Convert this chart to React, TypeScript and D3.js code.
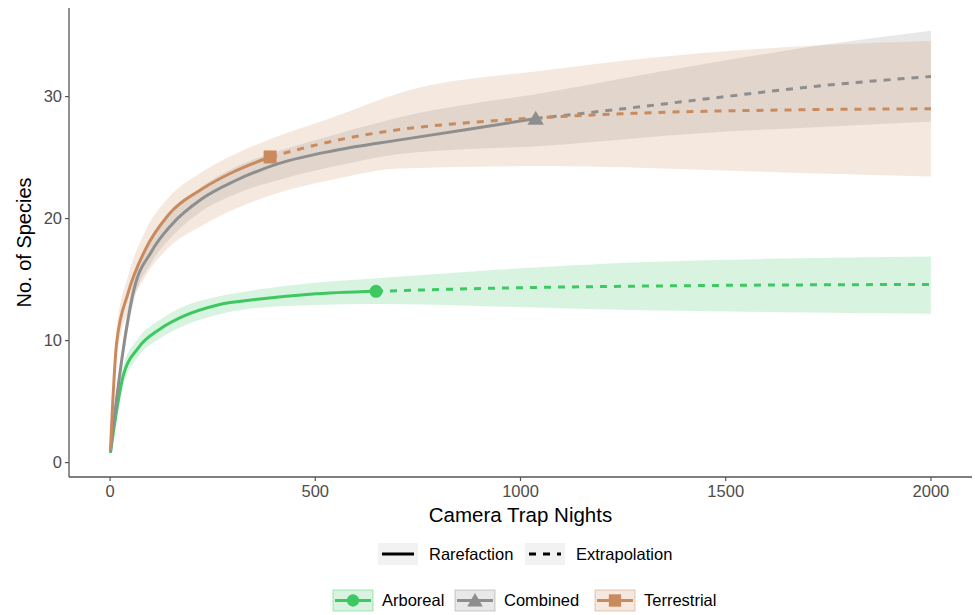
import React from "react";
import * as d3 from "d3";

// values (x = camera trap nights, y = species)
const arborealRare = [[1, 0.8], [32, 7.1], [69, 9.4], [122, 10.95], [179, 12.0], [260, 12.9], [365, 13.4], [487, 13.8], [648, 14.04]];
const arborealExtra = [[648, 14.04], [942, 14.3], [1250, 14.45], [1600, 14.55], [2000, 14.6]];
const arborealBand = [
  [1, 0.6, 1.0], [32, 6.3, 7.9], [69, 8.7, 10.2], [122, 10.2, 11.7], [179, 11.2, 12.8], [260, 12.1, 13.6],
  [365, 12.7, 14.2], [487, 12.9, 14.7], [648, 13.0, 15.1], [942, 12.8, 15.8], [1267, 12.5, 16.4],
  [1600, 12.35, 16.7], [2000, 12.2, 16.9]
];

const combinedRare = [[1, 0.9], [20, 6.3], [57, 14.0], [101, 17.3], [150, 19.5], [223, 21.6], [305, 23.1], [410, 24.5], [550, 25.6], [706, 26.45], [870, 27.3], [1037, 28.2]];
const combinedExtra = [[1037, 28.2], [1250, 29.0], [1437, 29.75], [1721, 30.85], [2000, 31.65]];
const combinedBand = [
  [1, 0.7, 1.1], [20, 5.7, 7.0], [57, 13.1, 14.9], [101, 16.4, 18.3], [150, 18.5, 20.5], [223, 20.6, 22.6],
  [305, 22.0, 24.2], [426, 23.3, 25.7], [550, 24.3, 26.9], [706, 25.3, 28.3], [1072, 26.0, 30.4],
  [1437, 27.0, 32.6], [1730, 27.5, 34.2], [2000, 27.95, 35.4]
];

const terrestrialRare = [[1, 1.0], [16, 9.8], [44, 13.9], [85, 17.4], [142, 20.3], [223, 22.4], [305, 23.9], [390, 25.05]];
const terrestrialExtra = [[390, 25.05], [550, 26.4], [706, 27.3], [870, 27.85], [1037, 28.25], [1283, 28.64], [1640, 28.9], [2000, 29.0]];
const terrestrialBand = [
  [1, 0.8, 1.2], [16, 8.5, 11.0], [44, 12.4, 15.3], [85, 15.2, 18.9], [142, 17.6, 21.7], [223, 19.4, 23.8],
  [305, 20.8, 25.3], [390, 21.9, 26.5], [543, 23.2, 28.3], [706, 24.1, 30.3], [1072, 24.3, 32.2],
  [1437, 24.0, 33.55], [1730, 23.7, 34.2], [2000, 23.45, 34.55]
];

const xTicks = [0, 500, 1000, 1500, 2000];
const yTicks = [0, 10, 20, 30];
const groups = ["Arboreal", "Combined", "Terrestrial"];
const methods = ["Rarefaction", "Extrapolation"];

const colors = { Arboreal: "#3DC862", Combined: "#8E8E8E", Terrestrial: "#C98B5E" };
const font = "'Liberation Sans', Arial, sans-serif";

const series = [
  { name: "Arboreal", rare: arborealRare, extra: arborealExtra, band: arborealBand },
  { name: "Combined", rare: combinedRare, extra: combinedExtra, band: combinedBand },
  { name: "Terrestrial", rare: terrestrialRare, extra: terrestrialExtra, band: terrestrialBand }
];

function Marker({ name, cx, cy, scale = 1 }) {
  const c = colors[name];
  if (name === "Arboreal") return <circle cx={cx} cy={cy} r={6.5 * scale} fill={c} />;
  if (name === "Combined") {
    const d = d3.symbol(d3.symbolTriangle, 115 * scale * scale)();
    return <path d={d} transform={`translate(${cx},${cy + 1.5 * scale})`} fill={c} />;
  }
  const s = 13 * scale;
  return <rect x={cx - s / 2} y={cy - s / 2} width={s} height={s} fill={c} />;
}

export default function App() {
  const width = 975;
  const height = 615;
  const left = 69, right = 972, top = 8, bottom = 477;

  const x = d3.scaleLinear().domain([-100, 2100]).range([left, right]);
  const y = d3.scaleLinear().domain([-1.18, 37.26]).range([bottom, top]);

  const line = d3.line().curve(d3.curveMonotoneX).x(d => x(d[0])).y(d => y(d[1]));
  const area = d3.area().curve(d3.curveMonotoneX).x(d => x(d[0])).y0(d => y(d[1])).y1(d => y(d[2]));

  return (
    <svg width={width} height={height} style={{ position: "absolute", left: 0, top: 0, background: "#fff" }} fontFamily={font}>
      {/* confidence bands */}
      {series.map(s => (
        <path key={s.name + "band"} d={area(s.band)} fill={colors[s.name]} fillOpacity={0.2} />
      ))}
      {/* rarefaction / extrapolation */}
      {series.map(s => (
        <g key={s.name + "lines"}>
          <path d={line(s.rare)} fill="none" stroke={colors[s.name]} strokeWidth={3} strokeLinejoin="round" />
          <path d={line(s.extra)} fill="none" stroke={colors[s.name]} strokeWidth={3} strokeDasharray="7 7" />
        </g>
      ))}
      {series.map(s => {
        const last = s.rare[s.rare.length - 1];
        return <Marker key={s.name + "pt"} name={s.name} cx={x(last[0])} cy={y(last[1])} />;
      })}

      {/* axes */}
      <line x1={left} x2={left} y1={top} y2={bottom} stroke="#555" strokeWidth={1.3} />
      <line x1={left} x2={right} y1={bottom} y2={bottom} stroke="#555" strokeWidth={1.3} />
      {yTicks.map(t => (
        <g key={"y" + t}>
          <line x1={left - 4} x2={left} y1={y(t)} y2={y(t)} stroke="#555" strokeWidth={1.2} />
          <text x={left - 7} y={y(t)} dy="0.35em" textAnchor="end" fontSize={16.5} fill="#4D4D4D">{t}</text>
        </g>
      ))}
      {xTicks.map(t => (
        <g key={"x" + t}>
          <line x1={x(t)} x2={x(t)} y1={bottom} y2={bottom + 4} stroke="#555" strokeWidth={1.2} />
          <text x={x(t)} y={bottom + 20} textAnchor="middle" fontSize={16.5} fill="#4D4D4D">{t}</text>
        </g>
      ))}
      <text x={(left + right) / 2} y={522} textAnchor="middle" fontSize={20.5} fill="#000">Camera Trap Nights</text>
      <text transform={`translate(31,${(top + bottom) / 2}) rotate(-90)`} textAnchor="middle" fontSize={20} fill="#000">No. of Species</text>

      {/* linetype legend */}
      {methods.map((m, i) => {
        const kx = i === 0 ? 378 : 525;
        return (
          <g key={m}>
            <rect x={kx} y={543} width={40} height={22} fill="#F2F2F2" />
            <line x1={kx + 4} x2={kx + 36} y1={554} y2={554} stroke="#000" strokeWidth={3}
              strokeDasharray={i === 0 ? null : "7 7"} />
            <text x={kx + 51} y={554} dy="0.35em" fontSize={16.5} fill="#000">{m}</text>
          </g>
        );
      })}

      {/* fill legend */}
      {groups.map((g, i) => {
        const kx = [333, 455, 595][i];
        return (
          <g key={g}>
            <rect x={kx} y={590} width={40} height={21} fill={colors[g]} fillOpacity={0.2}
              stroke={colors[g]} strokeOpacity={0.45} strokeWidth={1} />
            <line x1={kx + 2} x2={kx + 38} y1={600.5} y2={600.5} stroke={colors[g]} strokeWidth={3} />
            <Marker name={g} cx={kx + 20} cy={600.5} scale={0.95} />
            <text x={kx + 49} y={600.5} dy="0.35em" fontSize={16.5} fill="#000">{g}</text>
          </g>
        );
      })}
    </svg>
  );
}
